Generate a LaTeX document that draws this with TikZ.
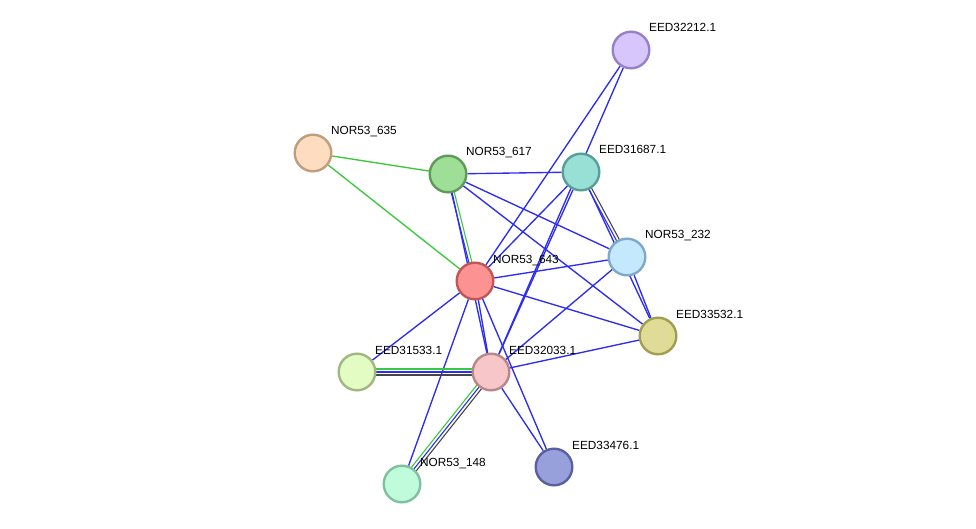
\documentclass[tikz,border=0pt]{standalone}
\usepackage{fontspec}
\setmainfont{Liberation Sans}
\usetikzlibrary{calc}
\pgfdeclarelayer{background}
\pgfsetlayers{background,main}

\definecolor{sblue}{RGB}{45,45,240}
\definecolor{sgreen}{RGB}{60,200,60}
\definecolor{sblack}{RGB}{70,70,70}

\tikzset{
  prot/.style={circle,draw,line width=2.4pt,minimum size=36.6pt,inner sep=0pt},
  lbl/.style={anchor=base west,inner sep=0pt,font=\fontsize{11.8}{13}\selectfont},
  bl/.style={line width=1.35pt,sblue},
  gr/.style={line width=1.35pt,sgreen},
  bk/.style={line width=1.35pt,sblack},
  thin bl/.style={line width=1.1pt,sblue},
  thin gr/.style={line width=1.1pt,sgreen},
  thin bk/.style={line width=1.1pt,sblack}
}
% one of several parallel lines between two proteins
\newcommand{\paredge}[4]{\draw[#1] ($(#2)!#4!90:(#3)$) -- ($(#3)!#4!-90:(#2)$);}

\begin{document}
\begin{tikzpicture}[x=1pt,y=-1pt]
\useasboundingbox (0,0) rectangle (976,529);

\node[prot,fill={rgb,255:red,214;green,198;blue,252},draw={rgb,255:red,152;green,128;blue,200}] (e32212) at (631,50) {};
\node[prot,fill={rgb,255:red,253;green,220;blue,192},draw={rgb,255:red,190;green,158;blue,124}] (n635) at (313,153) {};
\node[prot,fill={rgb,255:red,158;green,222;blue,150},draw={rgb,255:red,92;green,156;blue,88}] (n617) at (448,174) {};
\node[prot,fill={rgb,255:red,152;green,224;blue,214},draw={rgb,255:red,88;green,158;blue,152}] (e31687) at (581,172) {};
\node[prot,fill={rgb,255:red,196;green,232;blue,252},draw={rgb,255:red,128;green,168;blue,200}] (n232) at (627,257) {};
\node[prot,fill={rgb,255:red,252;green,146;blue,146},draw={rgb,255:red,192;green,86;blue,86}] (n643) at (475,281) {};
\node[prot,fill={rgb,255:red,224;green,220;blue,152},draw={rgb,255:red,160;green,158;blue,80}] (e33532) at (658,336) {};
\node[prot,fill={rgb,255:red,226;green,252;blue,196},draw={rgb,255:red,160;green,184;blue,128}] (e31533) at (357,372) {};
\node[prot,fill={rgb,255:red,246;green,198;blue,200},draw={rgb,255:red,184;green,136;blue,136}] (e32033) at (491,372) {};
\node[prot,fill={rgb,255:red,192;green,252;blue,220},draw={rgb,255:red,128;green,192;blue,160}] (n148) at (402,484) {};
\node[prot,fill={rgb,255:red,152;green,160;blue,220},draw={rgb,255:red,88;green,96;blue,160}] (e33476) at (554,467) {};

% labels
\node[lbl] (t32212) at ([shift={(18pt,18pt)}]e32212.center) {EED32212.1};
\node[lbl] (t635) at ([shift={(18pt,18pt)}]n635.center) {NOR53\_635};
\node[lbl] (t617) at ([shift={(18pt,18pt)}]n617.center) {NOR53\_617};
\node[lbl] (t31687) at ([shift={(18pt,18pt)}]e31687.center) {EED31687.1};
\node[lbl] (t232) at ([shift={(18pt,18pt)}]n232.center) {NOR53\_232};
\node[lbl] (t643) at ([shift={(18pt,18pt)}]n643.center) {NOR53\_643};
\node[lbl] (t33532) at ([shift={(18pt,18pt)}]e33532.center) {EED33532.1};
\node[lbl] (t31533) at ([shift={(18pt,18pt)}]e31533.center) {EED31533.1};
\node[lbl] (t32033) at ([shift={(18pt,18pt)}]e32033.center) {EED32033.1};
\node[lbl] (t148) at ([shift={(18pt,18pt)}]n148.center) {NOR53\_148};
\node[lbl] (t33476) at ([shift={(18pt,18pt)}]e33476.center) {EED33476.1};

\begin{pgfonlayer}{background}
\draw[gr] (n635) -- (n617);
\draw[gr] (n635) -- (n643);

\draw[bl] (n617) -- (e31687);
\draw[bl] (n617) -- (n232);
\draw[bl] (n617) -- (e33532);
\draw[bl] (n617) -- (e32033);
\draw[bl] (e32212) -- (n643);
\draw[bl] (e32212) -- (e32033);
\draw[bl] (e31687) -- (n643);
\draw[bl] (e31687) -- (e32033);
\draw[bl] (e31687) -- (e33532);
\draw[bl] (n232) -- (e33532);
\draw[bl] (n232) -- (n643);
\draw[bl] (n232) -- (e32033);
\draw[bl] (n643) -- (e33532);
\draw[bl] (n643) -- (e31533);
\draw[bl] (n643) -- (e32033);
\draw[bl] (n643) -- (n148);
\draw[bl] (n643) -- (e33476);
\draw[bl] (e32033) -- (e33476);
\draw[bl] (e32033) -- (e33532);

\paredge{thin gr}{n617}{n643}{1.6pt}
\paredge{thin bl}{n617}{n643}{-1.4pt}
\paredge{thin bk}{e31687}{n232}{1.6pt}
\paredge{thin bl}{e31687}{n232}{-1.4pt}
\paredge{thin gr}{e31533}{e32033}{3pt}
\paredge{thin bl}{e31533}{e32033}{0pt}
\paredge{thin bk}{e31533}{e32033}{-3pt}
\paredge{thin gr}{n148}{e32033}{3pt}
\paredge{thin bl}{n148}{e32033}{0pt}
\paredge{thin bk}{n148}{e32033}{-3pt}
\end{pgfonlayer}

\end{tikzpicture}
\end{document}
